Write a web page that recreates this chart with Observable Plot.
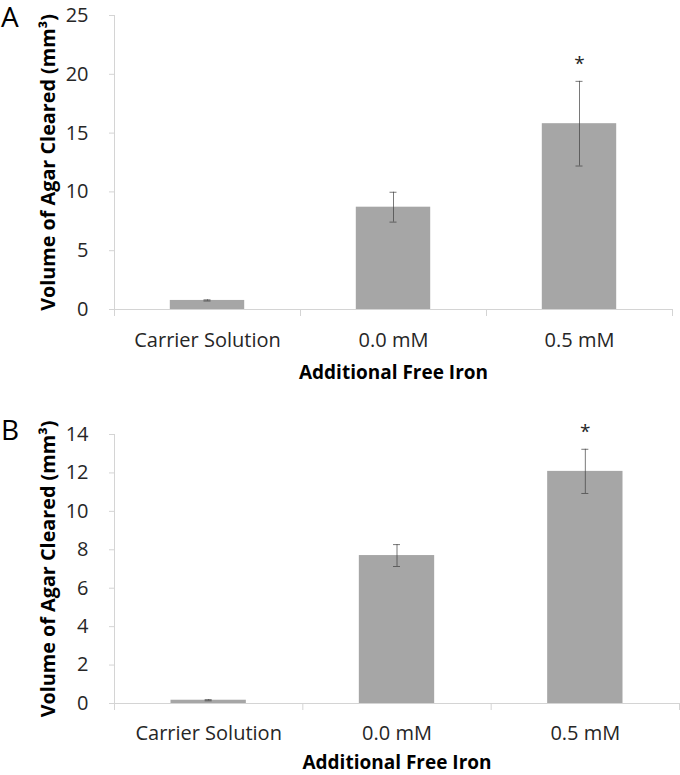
<!DOCTYPE html>
<html>
<head>
<meta charset="utf-8">
<script src="https://cdn.jsdelivr.net/npm/d3@7"></script>
<script src="https://cdn.jsdelivr.net/npm/@observablehq/plot@0.6"></script>
<style>
  html, body { margin: 0; padding: 0; background: #fff; }
  #wrap { position: relative; width: 680px; height: 775px; font-family: "Open Sans", sans-serif; }
  .panel { position: absolute; left: 0; width: 680px; }
  .letter { position: absolute; left: 1px; font-size: 28px; line-height: 32px; color: #000; font-family: "Open Sans", sans-serif; }
</style>
</head>
<body>
<div id="wrap">
  <div class="panel" id="pa" style="top:0"></div>
  <div class="panel" id="pb" style="top:388px"></div>
  <div class="letter" style="top:0px">A</div>
  <div class="letter" style="top:413px">B</div>
</div>
<script>
// Data
const categories = ["Carrier Solution", "0.0 mM", "0.5 mM"];
const meansA = [0.77, 8.7, 15.8];
const errsA = [0.05, 1.27, 3.6];
const sigA = ["", "", "*"];
const ticksA = [0, 5, 10, 15, 20, 25];
const meansB = [0.17, 7.7, 12.08];
const errsB = [0.03, 0.57, 1.15];
const sigB = ["", "", "*"];
const ticksB = [0, 2, 4, 6, 8, 10, 12, 14];
const yTitle = "Volume of Agar Cleared (mm³)";
const xTitle = "Additional Free Iron";

const axisColor = "#d4d4d4";
const barColor = "#a6a6a6";
const textColor = "#262626";

function panel({means, errs, sig, ticks, ymax, height, marginTop, marginRight, marginBottom, tickPad, titleDy}) {
  const data = categories.map((c, i) => ({i, c, mean: means[i], err: errs[i], sig: sig[i]}));
  return Plot.plot({
    width: 680,
    height,
    marginLeft: 114,
    marginRight,
    marginTop,
    marginBottom,
    style: {fontFamily: "'Open Sans', sans-serif", fontSize: "20px", color: textColor, background: "white"},
    x: {domain: [0, categories.length], axis: null},
    y: {domain: [0, ymax], axis: null},
    marks: [
      Plot.rectY(data, {x1: d => d.i + 0.3, x2: d => d.i + 0.7, y1: 0, y2: "mean", fill: barColor}),
      Plot.ruleX([0], {stroke: axisColor}),
      Plot.ruleY([0], {stroke: axisColor}),
      Plot.axisY({ticks, tickSize: 5, tickPadding: 21, stroke: axisColor, fill: textColor, label: null, fontSize: 20}),
      Plot.axisX({ticks: d3.range(categories.length + 1), tickSize: 7, tickFormat: () => "", stroke: axisColor, label: null}),
      Plot.axisX({ticks: categories.map((c, i) => i + 0.5), tickSize: 0, tickPadding: tickPad, tickFormat: d => categories[Math.floor(d)], fill: textColor, label: null, fontSize: 20}),
      Plot.ruleX(data, {x: d => d.i + 0.5, y1: d => d.mean - d.err, y2: d => d.mean + d.err, stroke: "#404040", strokeOpacity: 0.7}),
      Plot.ruleY(data, {x1: d => d.i + 0.5, x2: d => d.i + 0.5, y: d => d.mean + d.err, insetLeft: -3.5, insetRight: -3.5, stroke: "#404040", strokeOpacity: 0.7}),
      Plot.ruleY(data, {x1: d => d.i + 0.5, x2: d => d.i + 0.5, y: d => d.mean - d.err, insetLeft: -3.5, insetRight: -3.5, stroke: "#404040", strokeOpacity: 0.7}),
      Plot.text(data.filter(d => d.sig), {x: d => d.i + 0.5, y: d => d.mean + d.err, text: "sig", dy: -17, fontSize: 19, fill: textColor}),
      Plot.text([yTitle], {frameAnchor: "left", rotate: -90, dx: -66, textAnchor: "middle", fontWeight: "bold", fontSize: 19.8, fill: "#000"}),
      Plot.text([xTitle], {frameAnchor: "bottom", dy: titleDy, textAnchor: "middle", fontWeight: "bold", fontSize: 19, fill: "#000"})
    ]
  });
}

document.getElementById("pa").append(panel({
  means: meansA, errs: errsA, sig: sigA, ticks: ticksA, ymax: 25,
  height: 388, marginTop: 15, marginRight: 8, marginBottom: 79, tickPad: 23, titleDy: 69
}));
document.getElementById("pb").append(panel({
  means: meansB, errs: errsB, sig: sigB, ticks: ticksB, ymax: 14,
  height: 387, marginTop: 46, marginRight: 1, marginBottom: 72, tickPad: 22, titleDy: 65
}));
</script>
</body>
</html>
